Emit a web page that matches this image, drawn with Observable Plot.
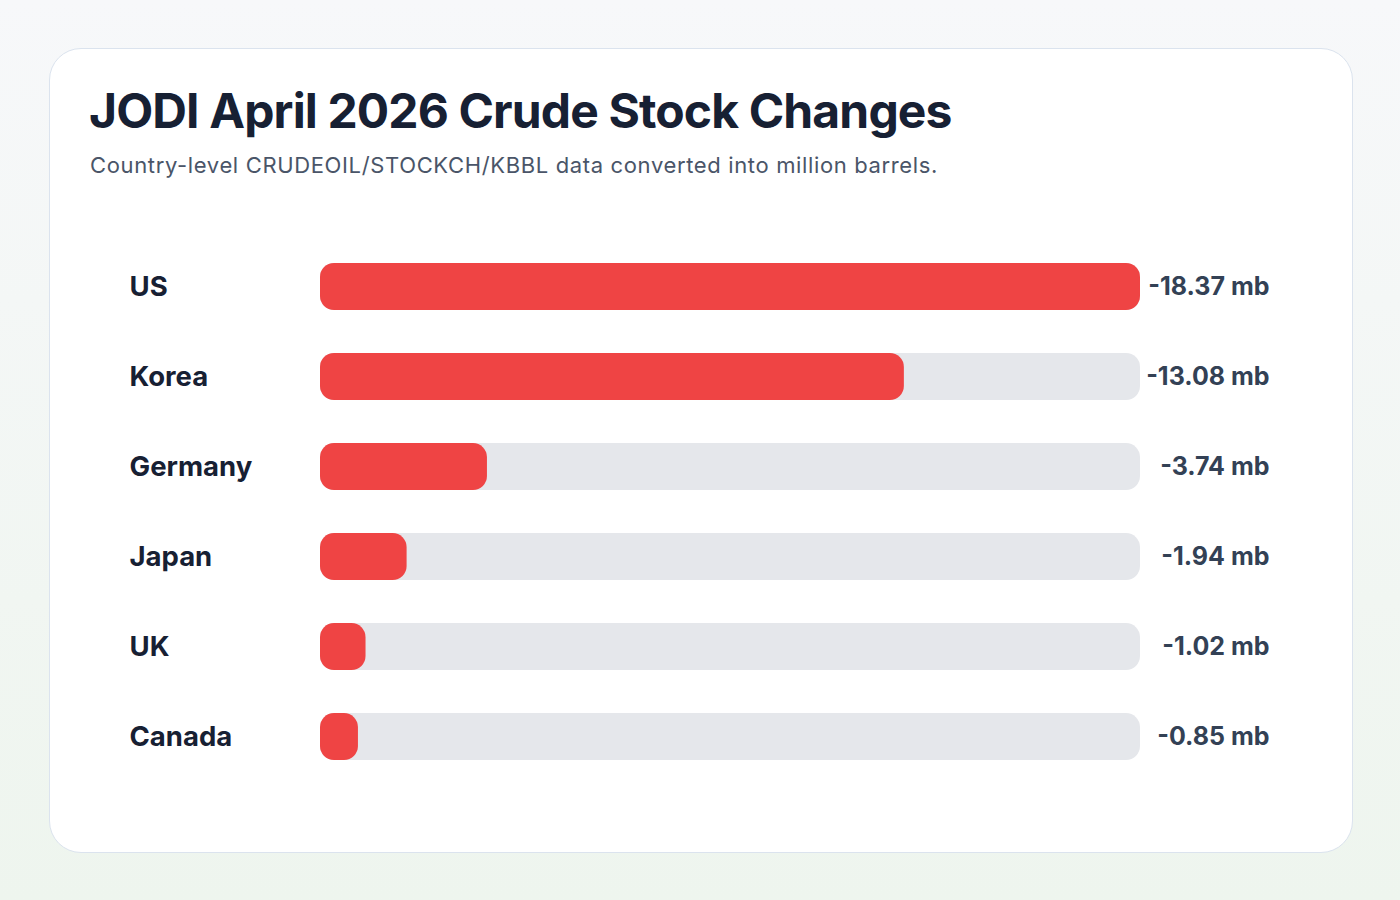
<!DOCTYPE html>
<html>
<head>
<meta charset="utf-8">
<script src="https://cdn.jsdelivr.net/npm/d3@7"></script>
<script src="https://cdn.jsdelivr.net/npm/@observablehq/plot@0.6"></script>
<style>
  html, body { margin: 0; padding: 0; }
  body {
    width: 1400px; height: 900px; overflow: hidden; position: relative;
    background: linear-gradient(180deg, #f7f8fa 0%, #eef5ee 100%);
    font-family: Inter, "Noto Sans", sans-serif;
  }
  #card {
    position: absolute; left: 49px; top: 48px; width: 1304px; height: 805px;
    box-sizing: border-box; background: #fff; border: 1.5px solid #dbe3ee;
    border-radius: 32px;
  }
  #title {
    position: absolute; left: 89px; top: 87px; margin: 0;
    font-size: 48px; font-weight: 700; color: #172033; letter-spacing: -0.018em;
    line-height: 1; white-space: nowrap;
  }
  #subtitle {
    position: absolute; left: 90px; top: 153.5px; margin: 0;
    font-size: 22px; font-weight: 400; color: #4a5568; letter-spacing: 0.64px;
    line-height: 1; white-space: nowrap;
  }
  #chart { position: absolute; left: 50px; top: 190px; }
</style>
</head>
<body>
<div id="card"></div>
<h1 id="title">JODI April 2026 Crude Stock Changes</h1>
<p id="subtitle">Country-level CRUDEOIL/STOCKCH/KBBL data converted into million barrels.</p>
<div id="chart"></div>
<script>
const countries = ["US", "Korea", "Germany", "Japan", "UK", "Canada"];
const changes = [-18.37, -13.08, -3.74, -1.94, -1.02, -0.85];
const unit = "mb";

const rows = countries.map((c, i) => ({
  country: c,
  value: changes[i],
  mag: Math.abs(changes[i]),
  label: changes[i].toFixed(2) + " " + unit
}));
const maxMag = d3.max(rows, d => d.mag);

const chart = Plot.plot({
  width: 1300,
  height: 620,
  marginLeft: 0,
  marginRight: 0,
  marginTop: 30,
  marginBottom: 7,
  style: { fontFamily: "Inter, 'Noto Sans', sans-serif", background: "transparent" },
  x: { domain: [0, maxMag], range: [270, 1090], axis: null },
  y: { domain: countries, range: [30, 613.1], padding: 0.4778, round: false, axis: null },
  marks: [
    Plot.barX(rows, { y: "country", x1: 0, x2: maxMag, fill: "#e5e7eb", rx: 14 }),
    Plot.barX(rows, { y: "country", x1: 0, x2: "mag", fill: "#ef4444", rx: 14 }),
    Plot.text(rows, { y: "country", text: "country", frameAnchor: "left", dx: 79, textAnchor: "start",
      fontSize: 27.5, fontWeight: 700, fill: "#172033" }),
    Plot.text(rows, { y: "country", text: "label", frameAnchor: "right", dx: -81, textAnchor: "end",
      fontSize: 25, fontWeight: 700, fill: "#334155" })
  ]
});
document.getElementById("chart").appendChild(chart);
</script>
</body>
</html>
